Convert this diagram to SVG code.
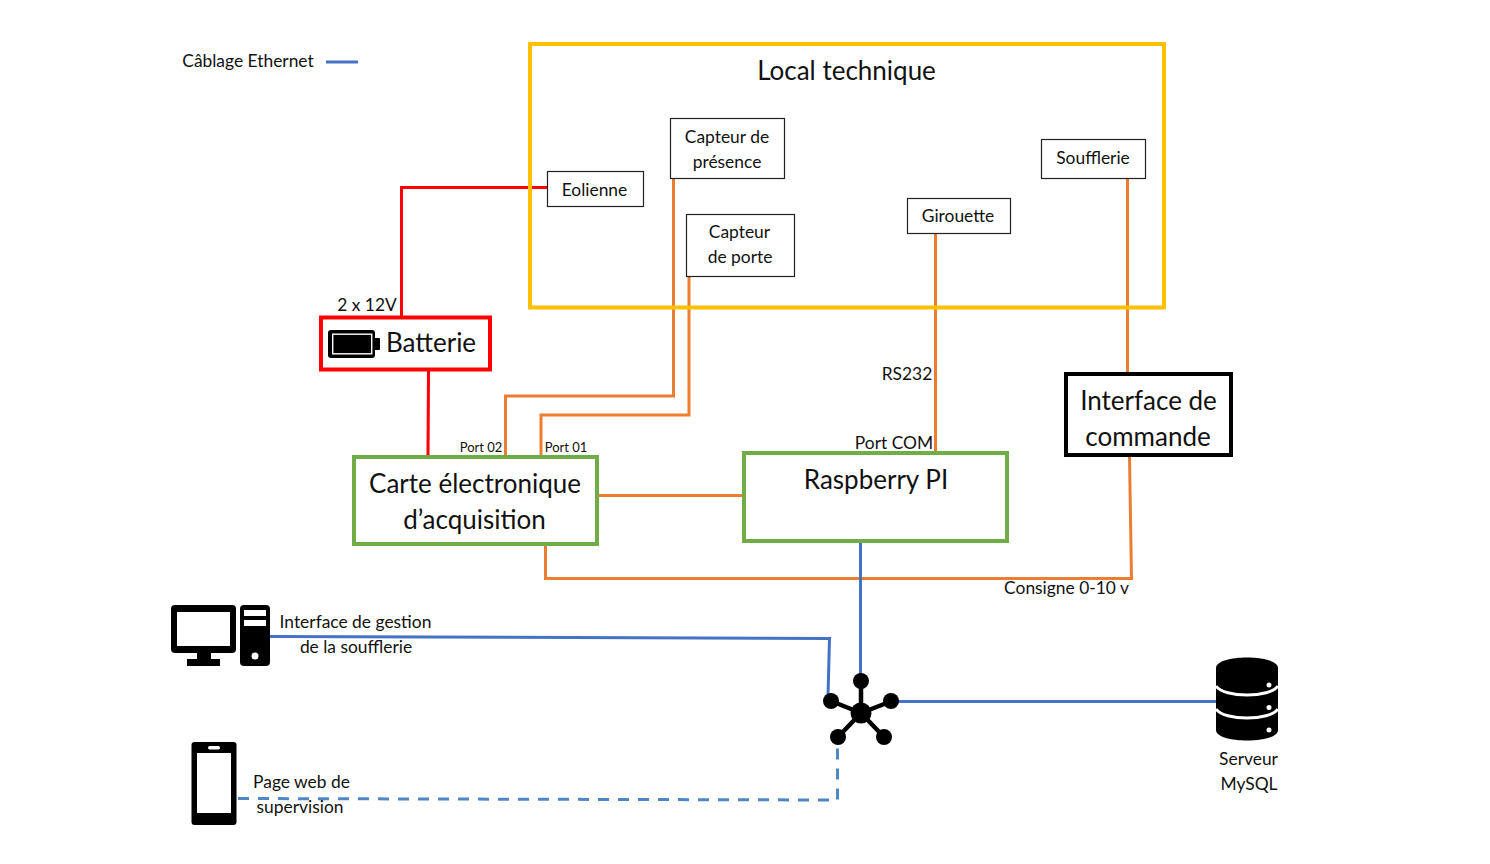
<svg xmlns="http://www.w3.org/2000/svg" width="1490" height="864" viewBox="0 0 1490 864">
<style>
text{font-family:Lato,"Noto Sans","Liberation Sans",sans-serif;fill:#111;text-anchor:middle}
.s{font-size:16.5px}.m{font-size:17.4px}.l{font-size:26px}.xs{font-size:13px}
.box{fill:#fff;stroke:#222;stroke-width:1.2}
.g{fill:#fff;stroke:#70ad47;stroke-width:4}
.c{fill:none;stroke-width:3}
.o{stroke:#ed7d31}.r{stroke:#f00}.b{stroke:#4472c4}
.d{stroke:#4f86c6;stroke-dasharray:11 9}
</style>
<g id="connectors">
<path class="c r" d="M547 187.500H401.500V317"/>
<path class="c r" d="M428.500 370L428 457"/>
<path class="c o" d="M673.500 178V396H505.500V457"/>
<path class="c o" d="M689 276V415H541V457"/>
<path class="c o" d="M935.500 234V453"/>
<path class="c o" d="M1127.500 178V374"/>
<path class="c o" d="M597 495.500H744"/>
<path class="c o" d="M545.500 544V578.500H1131.500L1129.500 456"/>
<path class="c b" d="M860.500 542V680"/>
<path class="c b" d="M270 636.500L829.500 638.500L828 696"/>
<path class="c b" d="M890 701.500H1217"/>
<path class="c d" d="M238 798.500L837.500 800V748"/>
<path class="c b" d="M326 62H358"/>
</g>
<g id="legend"><text class="m" x="248" y="67">Câblage Ethernet</text></g>
<g id="local-technique"><rect x="530" y="44" width="634" height="263.500" fill="none" stroke="#ffc000" stroke-width="4"/><text class="l" x="846.500" y="80">Local technique</text></g>
<g id="eolienne"><rect class="box" x="547.500" y="171.500" width="96" height="35"/><text class="m" x="594.500" y="196">Eolienne</text></g>
<g id="capteur-presence"><rect class="box" x="670.500" y="118.500" width="114" height="60"/><text class="m" x="727" y="143">Capteur de</text><text class="m" x="727" y="168">présence</text></g>
<g id="capteur-porte"><rect class="box" x="686.500" y="214.500" width="108" height="62"/><text class="m" x="739.500" y="238">Capteur</text><text class="m" x="740" y="263">de porte</text></g>
<g id="girouette"><rect class="box" x="907.500" y="198.500" width="103" height="35"/><text class="m" x="958" y="222">Girouette</text></g>
<g id="soufflerie"><rect class="box" x="1041.500" y="139.500" width="104" height="39"/><text class="m" x="1093" y="164">Soufflerie</text></g>
<g id="batterie"><rect x="321" y="317.500" width="169" height="52" fill="#fff" stroke="#f00" stroke-width="4"/>
<rect x="328" y="330" width="47" height="28" rx="3" fill="#000"/><rect x="332.700" y="334.200" width="39" height="19.600" fill="none" stroke="#fff" stroke-width="1.400"/><path d="M375 338h4a1 1 0 0 1 1 1v10a1 1 0 0 1-1 1h-4z" fill="#000"/>
<text class="l" x="431" y="352">Batterie</text></g>
<text class="m" x="367" y="310.500">2 x 12V</text>
<g id="carte"><rect class="g" x="354" y="457" width="243" height="87"/><text class="l" x="475" y="493">Carte électronique</text><text class="l" x="474.500" y="529">d’acquisition</text></g>
<g id="raspberry"><rect class="g" x="744" y="453" width="263" height="88"/><text class="l" x="876" y="488.500">Raspberry PI</text></g>
<g id="interface-commande"><rect x="1066" y="374" width="165" height="81" fill="#fff" stroke="#000" stroke-width="4"/><text class="l" x="1148.500" y="410">Interface de</text><text class="l" x="1148" y="446">commande</text></g>
<text class="xs" x="481" y="452">Port 02</text><text class="xs" x="566" y="452">Port 01</text>
<text class="m" x="894" y="449">Port COM</text><text class="m" x="907" y="380">RS232</text><text class="m" x="1066.500" y="594">Consigne 0-10 v</text>
<g id="ordinateur"><rect x="171" y="605" width="65" height="48" rx="4" fill="#000"/><rect x="177" y="612" width="53" height="34" fill="#fff"/><rect x="197" y="653" width="14" height="6" fill="#000"/><rect x="187" y="659" width="33" height="7" fill="#000"/>
<rect x="240" y="605" width="30" height="61" rx="4" fill="#000"/><rect x="244" y="610" width="22" height="6" fill="#fff"/><rect x="244" y="620" width="22" height="6" fill="#fff"/><circle cx="255" cy="656" r="3.500" fill="#fff"/>
<text class="m" x="355.500" y="628">Interface de gestion</text><text class="m" x="356" y="653">de la soufflerie</text></g>
<g id="telephone"><rect x="191.500" y="742" width="45" height="83" rx="3" fill="#000"/><rect x="197" y="753" width="34" height="60" fill="#fff"/><rect x="208" y="746" width="12" height="3.500" rx="1.700" fill="#fff"/>
<text class="m" x="301.500" y="788">Page web de</text><text class="m" x="300" y="813">supervision</text></g>
<g id="switch" stroke="#000" stroke-width="4.500" fill="#000"><path d="M861 713V681M861 713L831 701M861 713L892 701M861 713L838 737M861 713L884 737" fill="none"/><g stroke="none"><circle cx="861" cy="713" r="10.500"/><circle cx="861" cy="681" r="8"/><circle cx="831" cy="701" r="8"/><circle cx="891" cy="701" r="8"/><circle cx="838" cy="737" r="8"/><circle cx="884" cy="737" r="8"/></g></g>
<g id="serveur"><path d="M1216 668C1216 654 1278 654 1278 668V730C1278 744 1216 744 1216 730Z" fill="#000"/>
<path d="M1216 686C1224 698 1270 698 1278 686M1216 709C1224 721 1270 721 1278 709" fill="none" stroke="#fff" stroke-width="3"/>
<g fill="#fff"><circle cx="1269" cy="685" r="2.500"/><circle cx="1269" cy="707.500" r="2.500"/><circle cx="1269" cy="730" r="2.500"/></g>
<text class="m" x="1248.500" y="765">Serveur</text><text class="m" x="1249" y="790">MySQL</text></g>
</svg>
